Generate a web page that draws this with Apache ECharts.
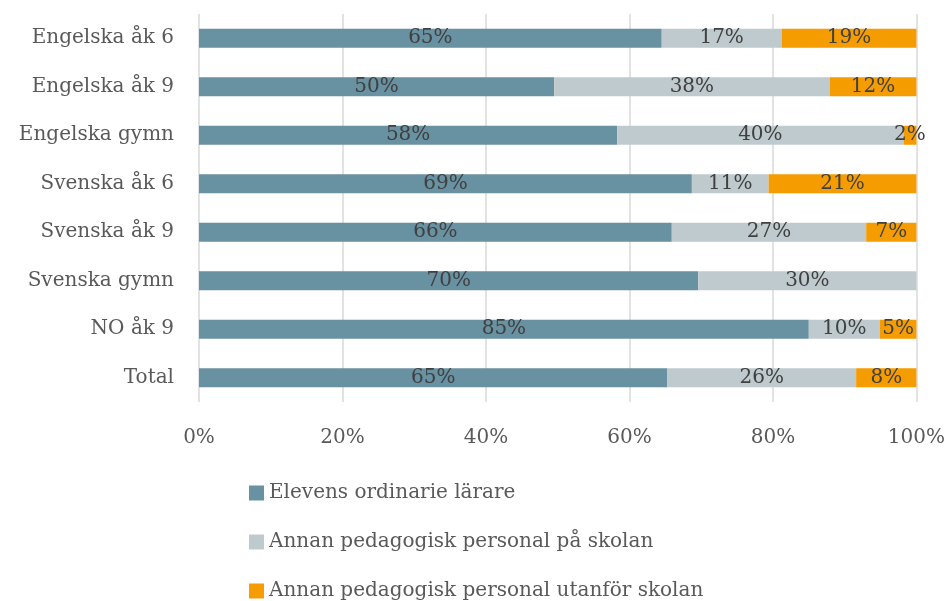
<!DOCTYPE html>
<html><head><meta charset="utf-8">
<script src="https://cdn.jsdelivr.net/npm/echarts@6/dist/echarts.min.js"></script>
<style>html,body{margin:0;padding:0;background:#fff}#c{width:948px;height:601px}</style>
</head><body><div id="c"></div>
<script>
var categories = ['Engelska åk 6','Engelska åk 9','Engelska gymn','Svenska åk 6','Svenska åk 9','Svenska gymn','NO åk 9','Total'];
var seriesNames = ['Elevens ordinarie lärare','Annan pedagogisk personal på skolan','Annan pedagogisk personal utanför skolan'];
var ordinarie = [64.5, 49.5, 58.3, 68.7, 65.9, 69.6, 85.0, 65.3];
var paSkolan  = [16.7, 38.4, 39.9, 10.7, 27.1, 30.4, 9.9, 26.3];
var utanfor   = [18.8, 12.1, 1.8, 20.6, 7.0, 0, 5.1, 8.4];
var xTicks = [0, 20, 40, 60, 80, 100];

var FONT = 'DejaVu Serif';
var colors = ['#6891a1', '#bfcace', '#f59c00'];
var chart = echarts.init(document.getElementById('c'));
function mk(name, data, i) {
  return {
    name: name, type: 'bar', stack: 'total', data: data, barWidth: 19,
    itemStyle: { color: colors[i] },
    label: { show: true, position: 'inside', color: '#404040', fontFamily: FONT, fontSize: 20,
      formatter: function (p) { return p.value > 0 ? Math.round(p.value) + '%' : ''; } }
  };
}
chart.setOption({
  animation: false,
  textStyle: { fontFamily: FONT },
  grid: { left: 199, right: 28, top: 14, bottom: 199, containLabel: false },
  legend: {
    orient: 'vertical', left: 249, top: 483, height: 150, padding: 0,
    itemWidth: 15, itemHeight: 15, itemGap: 29,
    icon: 'rect', data: seriesNames,
    textStyle: { fontFamily: FONT, fontSize: 20, color: '#595959' }
  },
  xAxis: {
    type: 'value', min: xTicks[0], max: xTicks[xTicks.length - 1], interval: 20,
    axisLine: { show: false }, axisTick: { show: false },
    splitLine: { lineStyle: { color: '#d9d9d9', width: 1.5 } },
    axisLabel: { formatter: '{value}%', color: '#595959', fontFamily: FONT, fontSize: 20, margin: 26 }
  },
  yAxis: {
    type: 'category', data: categories, inverse: true,
    axisLine: { show: false }, axisTick: { show: false },
    axisLabel: { color: '#595959', fontFamily: FONT, fontSize: 20, margin: 25 }
  },
  series: [mk(seriesNames[0], ordinarie, 0), mk(seriesNames[1], paSkolan, 1), mk(seriesNames[2], utanfor, 2)]
});
</script></body></html>
